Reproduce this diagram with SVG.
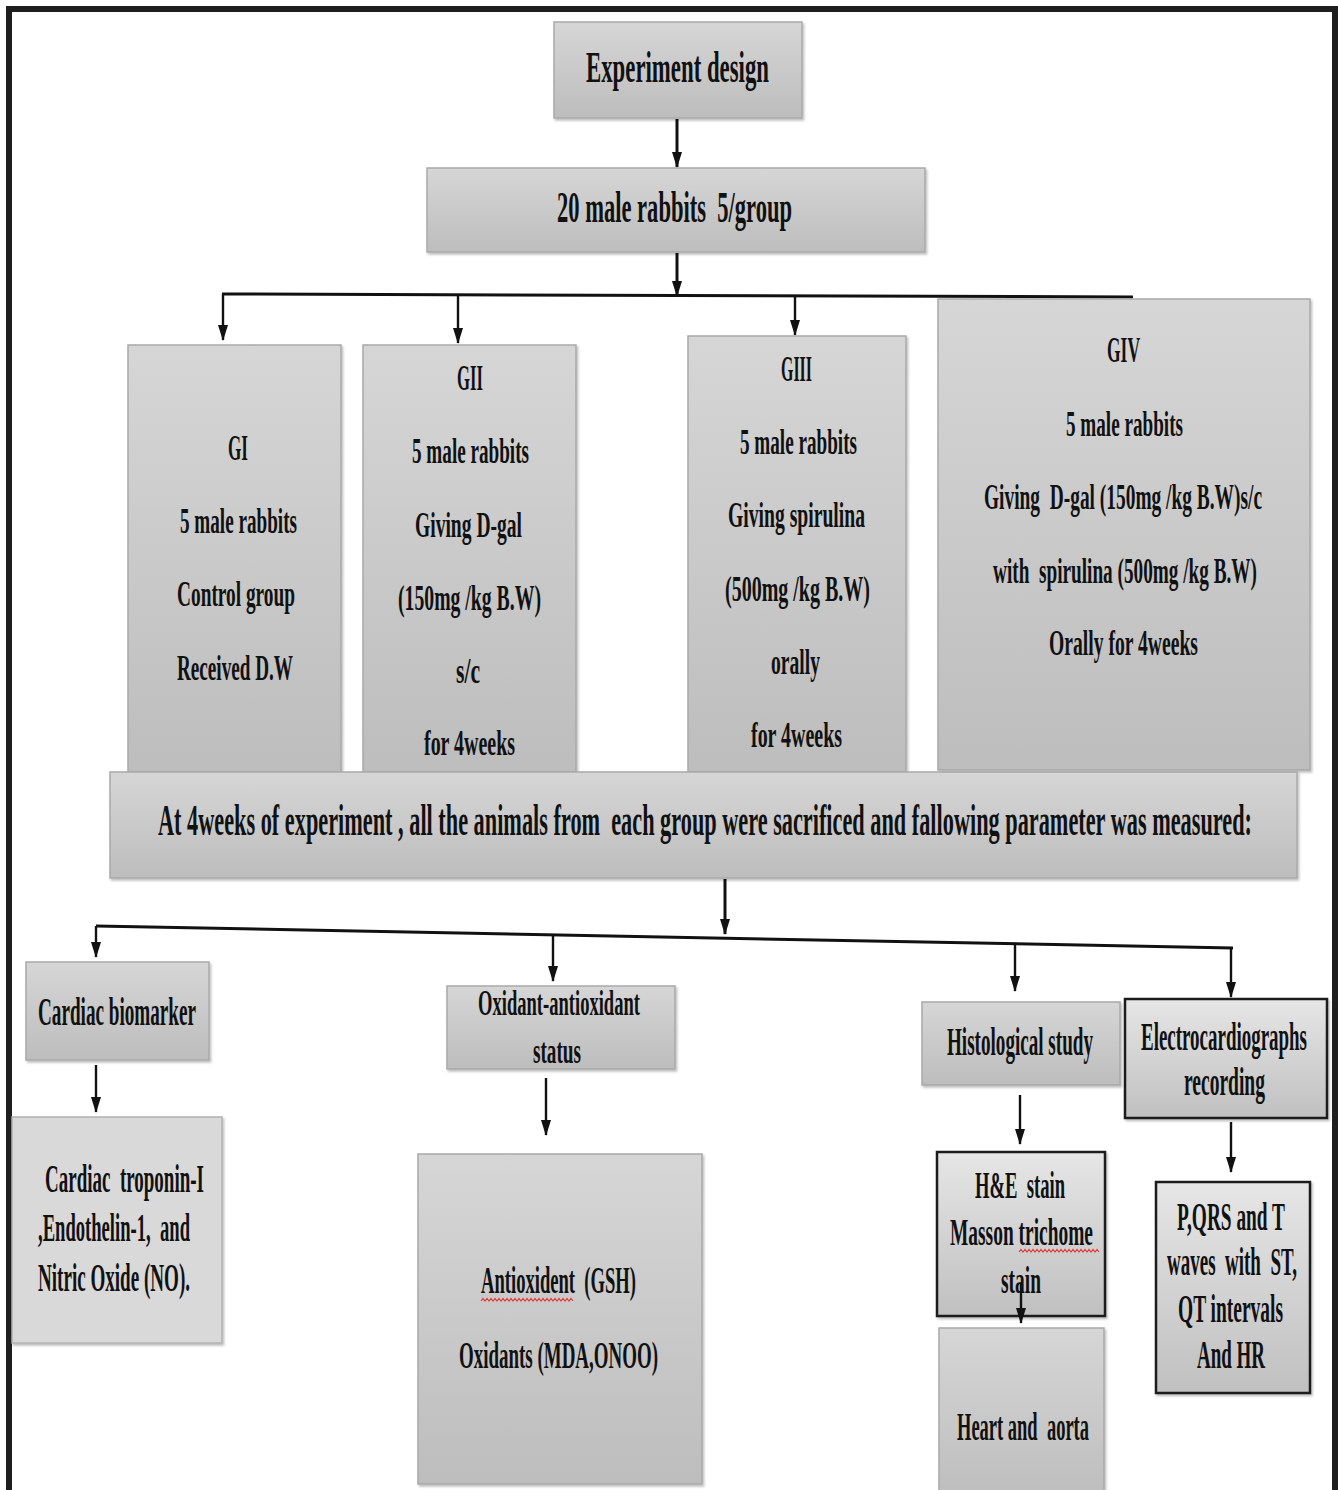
<svg xmlns="http://www.w3.org/2000/svg" width="1338" height="1490" viewBox="0 0 1338 1490">
<style>
.t{font-family:"Liberation Serif","Times New Roman",serif;font-weight:bold;fill:#111;white-space:pre;}
.s36{font-size:36px;}
.s38{font-size:38px;}
.s40{font-size:40px;}
.s44{font-size:44px;}
.box{fill:url(#g);stroke:#a9a9a9;stroke-width:1.5;filter:url(#sh);}
.boxl{fill:#d9d9d9;stroke:#b0b0b0;stroke-width:1.5;filter:url(#sh);}
.boxk{fill:url(#g2);stroke:#1a1a1a;stroke-width:2.5;filter:url(#sh);}
.c{stroke:#111;stroke-width:2.4;fill:none;}
.m{stroke:#111;stroke-width:3;fill:none;}
.a{marker-end:url(#ah);}
.h{stroke:#111;stroke-width:3;fill:none;}
.w{stroke:#e23b3b;stroke-width:1.2;fill:none;}
</style>
<defs>
<linearGradient id="g" x1="0" y1="0" x2="0" y2="1">
<stop offset="0" stop-color="#d6d6d6"/>
<stop offset="1" stop-color="#bdbdbd"/>
</linearGradient>
<linearGradient id="g2" x1="0" y1="0" x2="0" y2="1">
<stop offset="0" stop-color="#e6e6e6"/>
<stop offset="1" stop-color="#c0c0c0"/>
</linearGradient>
<filter id="sh" x="-5%" y="-5%" width="110%" height="110%">
<feDropShadow dx="1.5" dy="2" stdDeviation="1.2" flood-color="#000" flood-opacity="0.25"/>
</filter>
<marker id="ah" viewBox="0 0 16 10" markerWidth="16" markerHeight="10" refX="15" refY="5" orient="auto" markerUnits="userSpaceOnUse">
<path d="M0,0 L16,5 L0,10 z" fill="#111"/>
</marker>
</defs>
<rect x="0" y="0" width="1338" height="1490" fill="#fff"/>
<rect x="9" y="9" width="1326" height="1500" fill="none" stroke="#1e1e1e" stroke-width="6"/>

<g id="connectors">
<line class="m a" x1="677" y1="119" x2="677" y2="167"/>
<line class="m a" x1="677" y1="253" x2="677" y2="296"/>
<line class="h" x1="222" y1="294" x2="1133" y2="297"/>
<line class="c a" x1="223" y1="294" x2="223" y2="340"/>
<line class="c a" x1="458" y1="295" x2="458" y2="343"/>
<line class="c a" x1="795" y1="296" x2="795" y2="335"/>
<line class="m a" x1="725" y1="879" x2="725" y2="934"/>
<line class="h" x1="96" y1="926" x2="1233" y2="948"/>
<line class="c a" x1="96" y1="926" x2="96" y2="957"/>
<line class="c a" x1="553" y1="935" x2="553" y2="981"/>
<line class="c a" x1="1015" y1="944" x2="1015" y2="991"/>
<line class="c a" x1="1231" y1="948" x2="1231" y2="997"/>
<line class="c a" x1="96" y1="1065" x2="96" y2="1112"/>
<line class="c a" x1="546" y1="1078" x2="546" y2="1135"/>
<line class="c a" x1="1020" y1="1095" x2="1020" y2="1144"/>
<line class="c a" x1="1231" y1="1122" x2="1231" y2="1172"/>
</g>

<g id="n-experiment">
<rect class="box" x="554" y="22" width="248" height="96"/>
<g transform="scale(0.5,1)"><text class="t s44" x="1172" y="82" textLength="366" lengthAdjust="spacingAndGlyphs">Experiment design</text></g>
</g>

<g id="n-rabbits">
<rect class="box" x="427" y="168" width="498" height="84"/>
<g transform="scale(0.5,1)"><text class="t s44" x="1114" y="222" textLength="470" lengthAdjust="spacingAndGlyphs">20 male rabbits  5/group</text></g>
</g>

<g id="n-g1">
<rect class="box" x="128" y="345" width="213" height="427"/>
<g transform="scale(0.5,1)">
<text class="t s36" x="456" y="460" textLength="40" lengthAdjust="spacingAndGlyphs">GI</text>
<text class="t s36" x="360" y="533" textLength="234" lengthAdjust="spacingAndGlyphs">5 male rabbits</text>
<text class="t s36" x="354" y="606" textLength="236" lengthAdjust="spacingAndGlyphs">Control group</text>
<text class="t s36" x="354" y="680" textLength="232" lengthAdjust="spacingAndGlyphs">Received D.W</text>
</g>
</g>

<g id="n-g2">
<rect class="box" x="363" y="345" width="213" height="427"/>
<g transform="scale(0.5,1)">
<text class="t s36" x="914" y="390" textLength="52" lengthAdjust="spacingAndGlyphs">GII</text>
<text class="t s36" x="824" y="463" textLength="234" lengthAdjust="spacingAndGlyphs">5 male rabbits</text>
<text class="t s36" x="830" y="537" textLength="214" lengthAdjust="spacingAndGlyphs">Giving D-gal</text>
<text class="t s36" x="796" y="610" textLength="286" lengthAdjust="spacingAndGlyphs">(150mg /kg B.W)</text>
<text class="t s36" x="912" y="683" textLength="48" lengthAdjust="spacingAndGlyphs">s/c</text>
<text class="t s36" x="848" y="755" textLength="182" lengthAdjust="spacingAndGlyphs">for 4weeks</text>
</g>
</g>

<g id="n-g3">
<rect class="box" x="688" y="336" width="218" height="436"/>
<g transform="scale(0.5,1)">
<text class="t s36" x="1562" y="381" textLength="62" lengthAdjust="spacingAndGlyphs">GIII</text>
<text class="t s36" x="1480" y="454" textLength="234" lengthAdjust="spacingAndGlyphs">5 male rabbits</text>
<text class="t s36" x="1456" y="527" textLength="274" lengthAdjust="spacingAndGlyphs">Giving spirulina</text>
<text class="t s36" x="1450" y="601" textLength="290" lengthAdjust="spacingAndGlyphs">(500mg /kg B.W)</text>
<text class="t s36" x="1542" y="674" textLength="98" lengthAdjust="spacingAndGlyphs">orally</text>
<text class="t s36" x="1502" y="747" textLength="182" lengthAdjust="spacingAndGlyphs">for 4weeks</text>
</g>
</g>

<g id="n-g4">
<rect class="box" x="938" y="299" width="372" height="471"/>
<g transform="scale(0.5,1)">
<text class="t s36" x="2214" y="362" textLength="66" lengthAdjust="spacingAndGlyphs">GIV</text>
<text class="t s36" x="2132" y="436" textLength="234" lengthAdjust="spacingAndGlyphs">5 male rabbits</text>
<text class="t s36" x="1968" y="509" textLength="556" lengthAdjust="spacingAndGlyphs">Giving  D-gal (150mg /kg B.W)s/c</text>
<text class="t s36" x="1986" y="583" textLength="528" lengthAdjust="spacingAndGlyphs">with  spirulina (500mg /kg B.W)</text>
<text class="t s36" x="2098" y="655" textLength="298" lengthAdjust="spacingAndGlyphs">Orally for 4weeks</text>
</g>
</g>

<g id="n-sacrifice">
<rect class="box" x="110" y="772" width="1187" height="106"/>
<g transform="scale(0.5,1)"><text class="t s44" x="316" y="835" textLength="2188" lengthAdjust="spacingAndGlyphs">At 4weeks of experiment , all the animals from  each group were sacrificed and fallowing parameter was measured:</text></g>
</g>

<g id="n-cardiac">
<rect class="box" x="26" y="962" width="183" height="98"/>
<g transform="scale(0.5,1)"><text class="t s40" x="76" y="1025" textLength="316" lengthAdjust="spacingAndGlyphs">Cardiac biomarker</text></g>
</g>

<g id="n-cardiac-params">
<rect class="boxl" x="12" y="1117" width="210" height="226"/>
<g transform="scale(0.5,1)">
<text class="t s40" x="90" y="1192" textLength="318" lengthAdjust="spacingAndGlyphs">Cardiac  troponin-I</text>
<text class="t s40" x="76" y="1241" textLength="304" lengthAdjust="spacingAndGlyphs">,Endothelin-1,  and</text>
<text class="t s40" x="76" y="1291" textLength="304" lengthAdjust="spacingAndGlyphs">Nitric Oxide (NO).</text>
</g>
</g>

<g id="n-oxidant">
<rect class="box" x="447" y="986" width="228" height="83"/>
<g transform="scale(0.5,1)">
<text class="t s36" x="956" y="1015" textLength="324" lengthAdjust="spacingAndGlyphs">Oxidant-antioxidant</text>
<text class="t s36" x="1066" y="1063" textLength="96" lengthAdjust="spacingAndGlyphs">status</text>
</g>
</g>

<g id="n-oxidant-params">
<rect class="box" x="418" y="1154" width="284" height="330"/>
<g transform="scale(0.5,1)">
<text class="t s38" x="962" y="1293" textLength="310" lengthAdjust="spacingAndGlyphs">Antioxident  (GSH)</text>
<text class="t s38" x="918" y="1368" textLength="398" lengthAdjust="spacingAndGlyphs">Oxidants (MDA,ONOO)</text>
</g>
<path class="w" d="M481,1301 l2,-2.5 l2,2.5 l2,-2.5 l2,2.5 l2,-2.5 l2,2.5 l2,-2.5 l2,2.5 l2,-2.5 l2,2.5 l2,-2.5 l2,2.5 l2,-2.5 l2,2.5 l2,-2.5 l2,2.5 l2,-2.5 l2,2.5 l2,-2.5 l2,2.5 l2,-2.5 l2,2.5 l2,-2.5 l2,2.5 l2,-2.5 l2,2.5 l2,-2.5 l2,2.5 l2,-2.5 l2,2.5 l2,-2.5 l2,2.5 l2,-2.5 l2,2.5 l2,-2.5 l2,2.5 l2,-2.5 l2,2.5 l2,-2.5 l2,2.5 l2,-2.5 l2,2.5 l2,-2.5 l2,2.5 l2,-2.5 l2,2.5"/>
</g>

<g id="n-histo">
<rect class="box" x="922" y="1002" width="198" height="83"/>
<g transform="scale(0.5,1)"><text class="t s40" x="1894" y="1055" textLength="292" lengthAdjust="spacingAndGlyphs">Histological study</text></g>
</g>

<g id="n-stain">
<rect class="boxk" x="937" y="1152" width="168" height="164"/>
<g transform="scale(0.5,1)">
<text class="t s38" x="1950" y="1198" textLength="180" lengthAdjust="spacingAndGlyphs">H&amp;E  stain</text>
<text class="t s38" x="1900" y="1245" textLength="286" lengthAdjust="spacingAndGlyphs">Masson trichome</text>
<text class="t s38" x="2002" y="1293" textLength="80" lengthAdjust="spacingAndGlyphs">stain</text>
</g>
<path class="w" d="M1019,1252 l2,-2.5 l2,2.5 l2,-2.5 l2,2.5 l2,-2.5 l2,2.5 l2,-2.5 l2,2.5 l2,-2.5 l2,2.5 l2,-2.5 l2,2.5 l2,-2.5 l2,2.5 l2,-2.5 l2,2.5 l2,-2.5 l2,2.5 l2,-2.5 l2,2.5 l2,-2.5 l2,2.5 l2,-2.5 l2,2.5 l2,-2.5 l2,2.5 l2,-2.5 l2,2.5 l2,-2.5 l2,2.5 l2,-2.5 l2,2.5 l2,-2.5 l2,2.5 l2,-2.5 l2,2.5 l2,-2.5 l2,2.5 l2,-2.5 l2,2.5"/>
</g>

<g id="n-heart">
<rect class="box" x="939" y="1328" width="165" height="175"/>
<g transform="scale(0.5,1)"><text class="t s40" x="1914" y="1440" textLength="264" lengthAdjust="spacingAndGlyphs">Heart and  aorta</text></g>
</g>

<g id="n-ecg">
<rect class="boxk" x="1125" y="999" width="202" height="119"/>
<g transform="scale(0.5,1)">
<text class="t s40" x="2282" y="1050" textLength="332" lengthAdjust="spacingAndGlyphs">Electrocardiographs</text>
<text class="t s40" x="2368" y="1095" textLength="162" lengthAdjust="spacingAndGlyphs">recording</text>
</g>
</g>

<g id="n-waves">
<rect class="boxk" x="1156" y="1182" width="154" height="211"/>
<g transform="scale(0.5,1)">
<text class="t s40" x="2354" y="1230" textLength="216" lengthAdjust="spacingAndGlyphs">P,QRS and T</text>
<text class="t s40" x="2334" y="1275" textLength="260" lengthAdjust="spacingAndGlyphs">waves  with  ST,</text>
<text class="t s40" x="2356" y="1322" textLength="210" lengthAdjust="spacingAndGlyphs">QT intervals</text>
<text class="t s40" x="2394" y="1368" textLength="136" lengthAdjust="spacingAndGlyphs">And HR</text>
</g>
</g>

<g id="connectors-overlay">
<line class="c a" x1="1021" y1="1283" x2="1021" y2="1323"/>
</g>
</svg>
